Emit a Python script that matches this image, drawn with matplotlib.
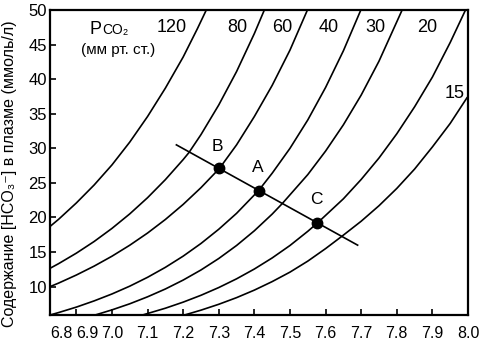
import numpy as np
from matplotlib import pyplot as plt

# PCO2 isobars (mm Hg): pH vs plasma HCO3- (mmol/l)
ph_120 = [6.826, 6.85, 6.9, 6.95, 7.0, 7.05, 7.1, 7.15, 7.2, 7.24, 7.265]
hco3_120 = [18.7, 19.73, 22.1, 24.7, 27.6, 30.9, 34.6, 38.7, 43.2, 47.3, 50.0]

ph_80 = [6.826, 6.85, 6.9, 6.95, 7.0, 7.05, 7.1, 7.15, 7.2, 7.216, 7.25, 7.3, 7.35, 7.4, 7.428]
hco3_80 = [12.65, 13.32, 14.84, 16.53, 18.42, 20.52, 22.86, 25.47, 28.37, 29.37, 31.98, 36.27,
           41.1, 46.6, 50.0]

ph_60 = [6.826, 6.85, 6.9, 6.95, 7.0, 7.05, 7.1, 7.15, 7.2, 7.25, 7.302, 7.35, 7.4, 7.45, 7.5, 7.549]
hco3_60 = [10.0, 10.51, 11.68, 12.97, 14.4, 15.99, 17.75, 19.71, 21.89, 24.31, 27.1, 30.5,
           34.6, 39.1, 44.2, 50.0]

ph_40 = [6.826, 6.85, 6.9, 6.95, 7.0, 7.05, 7.1, 7.15, 7.2, 7.25, 7.3, 7.35, 7.412, 7.45, 7.5,
         7.55, 7.6, 7.65, 7.699]
hco3_40 = [5.9, 6.25, 7.04, 7.94, 8.94, 10.07, 11.35, 12.79, 14.41, 16.24, 18.3, 20.6, 23.9,
           26.4, 30.0, 34.1, 38.8, 44.1, 50.0]

ph_30 = [6.953, 7.0, 7.05, 7.1, 7.15, 7.2, 7.25, 7.3, 7.35, 7.4, 7.45, 7.479, 7.55, 7.6, 7.65,
         7.7, 7.75, 7.815]
hco3_30 = [5.9, 6.64, 7.52, 8.53, 9.66, 10.95, 12.41, 14.07, 15.95, 18.08, 20.49, 22.05, 26.2,
           29.6, 33.4, 37.7, 42.6, 50.0]

ph_20 = [7.086, 7.15, 7.2, 7.25, 7.3, 7.35, 7.4, 7.45, 7.5, 7.55, 7.577, 7.65, 7.7, 7.75, 7.8,
         7.85, 7.9, 7.95, 7.993]
hco3_20 = [5.9, 6.88, 7.76, 8.75, 9.87, 11.13, 12.55, 14.15, 15.95, 18.0, 19.2, 22.7, 25.5,
           28.6, 32.1, 36.0, 40.3, 45.3, 50.0]

ph_15 = [7.204, 7.25, 7.3, 7.35, 7.4, 7.45, 7.5, 7.55, 7.6, 7.647, 7.7, 7.75, 7.8, 7.85, 7.9,
         7.95, 7.997]
hco3_15 = [5.9, 6.6, 7.45, 8.41, 9.5, 10.73, 12.1, 13.69, 15.5, 17.33, 19.46, 21.7, 24.2, 27.0,
           30.2, 33.6, 37.3]

# buffer line and the three marked states
line_ph = [7.181, 7.690]
line_hco3 = [30.5, 16.0]
point_names = ['B', 'A', 'C']
point_ph = [7.302, 7.412, 7.577]
point_hco3 = [27.1, 23.9, 19.2]

pco2_labels = ['120', '80', '60', '40', '30', '20']
xtick_vals = [6.9, 7.0, 7.1, 7.2, 7.3, 7.4, 7.5, 7.6, 7.7, 7.8, 7.9, 8.0]
ytick_vals = [10, 15, 20, 25, 30, 35, 40, 45, 50]

SANS = ['Liberation Sans', 'DejaVu Sans']


def main():
    plt.rcParams['font.family'] = SANS
    fig = plt.figure(figsize=(4.82, 3.48), dpi=100)
    ax = fig.add_axes([50 / 482, 33 / 348, 418 / 482, 305 / 348])

    curves = [(ph_120, hco3_120), (ph_80, hco3_80), (ph_60, hco3_60),
              (ph_40, hco3_40), (ph_30, hco3_30), (ph_20, hco3_20),
              (ph_15, hco3_15)]
    for ph, hco3 in curves:
        ax.plot(ph, hco3, color='black', lw=1.2)

    ax.plot(line_ph, line_hco3, color='black', lw=1.2)
    ax.plot(point_ph, point_hco3, 'o', color='black', ms=7.5)

    # isobar labels
    ax.text(6.972, 46.6, 'P', fontsize=13, ha='right', va='baseline')
    ax.text(6.972, 46.6, 'CO\u2082', fontsize=10, ha='left', va='baseline')
    ax.text(7.017, 44.2, '(мм рт. ст.)', fontsize=11, ha='center', va='center')
    for txt, x in zip(pco2_labels, [7.167, 7.353, 7.479, 7.610, 7.741, 7.886]):
        ax.text(x, 47.5, txt, fontsize=13, ha='center', va='center')
    ax.text(7.962, 37.95, '15', fontsize=13, ha='center', va='center')

    for name, x, y in zip(point_names, [7.297, 7.409, 7.573], [30.3, 27.26, 22.6]):
        ax.text(x, y, name, fontsize=12.5, ha='center', va='center')

    ax.set_xlim(6.826, 8.0)
    ax.set_ylim(5.9, 50)

    ax.set_xticks(xtick_vals)
    ax.set_xticklabels([''] + ['%.1f' % v for v in xtick_vals[1:]], fontsize=11.5)
    # the first two labels sit off their ticks in the original
    for txt, x in [('6.8', 6.859), ('6.9', 6.931)]:
        ax.annotate(txt, xy=(x, 0), xycoords=ax.get_xaxis_transform(), xytext=(0, -8),
                    textcoords='offset points', ha='center', va='top', fontsize=11.5)
    ax.set_yticks(ytick_vals)
    ax.set_yticklabels([str(v) for v in ytick_vals], fontsize=12)
    ax.tick_params(axis='x', direction='in', length=4, width=1.2, pad=8)
    ax.tick_params(axis='y', direction='in', length=4, width=1.2, pad=2)

    for s in ax.spines.values():
        s.set_linewidth(1.6)

    fig.text(10 / 482, 0.5, 'Содержание [HCO\u2083\u207b] в плазме (ммоль/л)',
             rotation=90, ha='center', va='center', fontsize=11.5)

    fig.savefig('out.png', dpi=100)


main()
